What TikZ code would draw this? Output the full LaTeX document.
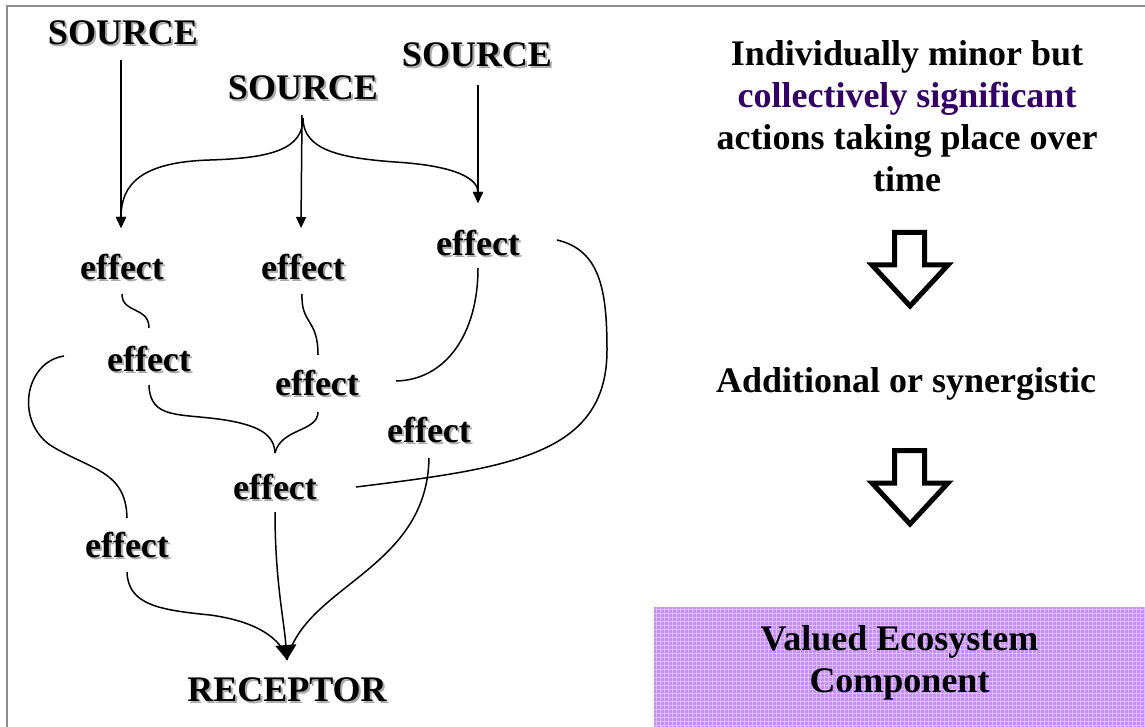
\documentclass[tikz,border=0pt]{standalone}
\usepackage{fontspec}
\setmainfont{Liberation Serif}
\usetikzlibrary{arrows.meta}
\definecolor{shadowgray}{RGB}{170,170,170}
\definecolor{framegray}{RGB}{140,140,140}
\definecolor{deeppurple}{RGB}{51,0,102}
\definecolor{lavender}{RGB}{196,142,246}
\definecolor{lavlight}{RGB}{222,190,253}
% label with a soft grey drop copy behind it
\newcommand\tagnode[3]{\node[dropcopy] at (#2) {#3};\node[lbl] (#1) at (#2) {#3};}
\begin{document}
\begin{tikzpicture}[x=1pt,y=-1pt,
  lbl/.style={font=\bfseries\fontsize{36}{42}\selectfont, inner sep=0pt},
  dropcopy/.style={lbl, text=shadowgray, xshift=2pt, yshift=-2pt},
  link/.style={line width=1.5pt},
  smalltip/.style={-{Triangle[length=11pt,width=10pt]}},
  bigtip/.style={-{Triangle[length=15pt,width=21pt]}},
  hollow/.style={draw=black, fill=white, line width=5pt, miter limit=10},
  plaid/.style={lavlight, line width=0.8pt}]
\useasboundingbox (0,0) rectangle (1145,727);

% frame
\draw[framegray, line width=2pt] (7,727) -- (7,6) -- (1145,6);

% ---- left: cumulative effects network ----
\tagnode{s1}{123,33}{SOURCE}
\tagnode{s2}{303,88}{SOURCE}
\tagnode{s3}{477,55}{SOURCE}
\tagnode{eA}{122,267}{effect}
\tagnode{eB}{303,267}{effect}
\tagnode{eC}{478,243}{effect}
\tagnode{eD}{149,359}{effect}
\tagnode{eE}{317,383}{effect}
\tagnode{eF}{429,430}{effect}
\tagnode{eG}{275,487}{effect}
\tagnode{eH}{127,545}{effect}
\tagnode{rec}{287,690}{RECEPTOR}

% sources to first effects
\draw[link,smalltip] ([shift={(-2,27)}]s1.center) -- ([shift={(-1,-39)}]eA.center);
\draw[link,smalltip] ([shift={(-1,27)}]s2.center) -- ([shift={(-2,-39)}]eB.center);
\draw[link,smalltip] ([shift={(1,30)}]s3.center) -- ([shift={(0,-40)}]eC.center);
\coordinate (fork) at ([shift={(0,30)}]s2.center);
\draw[link,smalltip] (fork) .. controls (303,150) and (270,158) .. (210,160)
  .. controls (140,162) and (121,185) .. ([shift={(-1,-39)}]eA.center);
\draw[link,smalltip] (fork) .. controls (303,150) and (340,158) .. (395,162)
  .. controls (460,166) and (478,180) .. ([shift={(0,-40)}]eC.center);

% effect to effect
\draw[link] ([shift={(0,27)}]eA.center) .. controls (122,314) and (149,306) .. ([shift={(0,-31)}]eD.center);
\draw[link] ([shift={(-1,27)}]eB.center) .. controls (301,325) and (318,318) .. ([shift={(1,-28)}]eE.center);
\draw[link] ([shift={(0,25)}]eC.center) .. controls (478,335) and (445,380) .. ([shift={(79,-2)}]eE.center);
\draw[link] ([shift={(79,-3)}]eC.center) .. controls (600,250) and (607,290) .. (607,350)
  .. controls (607,455) and (510,468) .. ([shift={(81,0)}]eG.center);
\coordinate (join) at ([shift={(0,-34)}]eG.center);
\draw[link] ([shift={(0,26)}]eD.center) .. controls (150,420) and (180,413) .. (225,420)
  .. controls (262,426) and (274,436) .. (join);
\draw[link] ([shift={(1,29)}]eE.center) .. controls (318,432) and (281,428) .. (join);
\draw[link] ([shift={(-85,-3)}]eD.center) .. controls (25,362) and (15,420) .. (50,445)
  .. controls (90,470) and (126,470) .. ([shift={(0,-27)}]eH.center);

% into the receptor
\coordinate (hit) at ([shift={(0,-30)}]rec.center);
\draw[link] ([shift={(0,27)}]eH.center) .. controls (128,605) and (160,610) .. (210,615)
  .. controls (255,621) and (282,638) .. (hit);
\draw[link] ([shift={(0,28)}]eF.center) .. controls (427,570) and (305,585) .. (hit);
\draw[link,bigtip] ([shift={(0,25)}]eG.center) .. controls (275,580) and (284,620) .. (hit);

% ---- right: summary column ----
\node[lbl, align=center] (note) at (907,116)
  {Individually minor but\\ \textcolor{deeppurple}{collectively significant}\\ actions taking place over\\ time};
\draw[hollow] (894.5,232.5) -- (924.5,232.5) -- (924.5,265) -- (948,265) -- (910,306)
  -- (872,265) -- (894.5,265) -- cycle;
\node[lbl, anchor=base] (combo) at (906,392) {Additional or synergistic};
\begin{scope}[shift={(0,218)}]
\draw[hollow] (894.5,232.5) -- (924.5,232.5) -- (924.5,265) -- (948,265) -- (910,306)
  -- (872,265) -- (894.5,265) -- cycle;
\end{scope}

% plaid box
\fill[lavender] (654,607) rectangle (1145,727);
\foreach \i in {656,660,...,1144} \draw[plaid] (\i,607) -- (\i,727);
\foreach \j in {609,613,...,725} \draw[plaid] (654,\j) -- (1145,\j);
\node[lbl, align=center] (vec) at (899.5,663) {Valued Ecosystem\\ Component};
\end{tikzpicture}
\end{document}
